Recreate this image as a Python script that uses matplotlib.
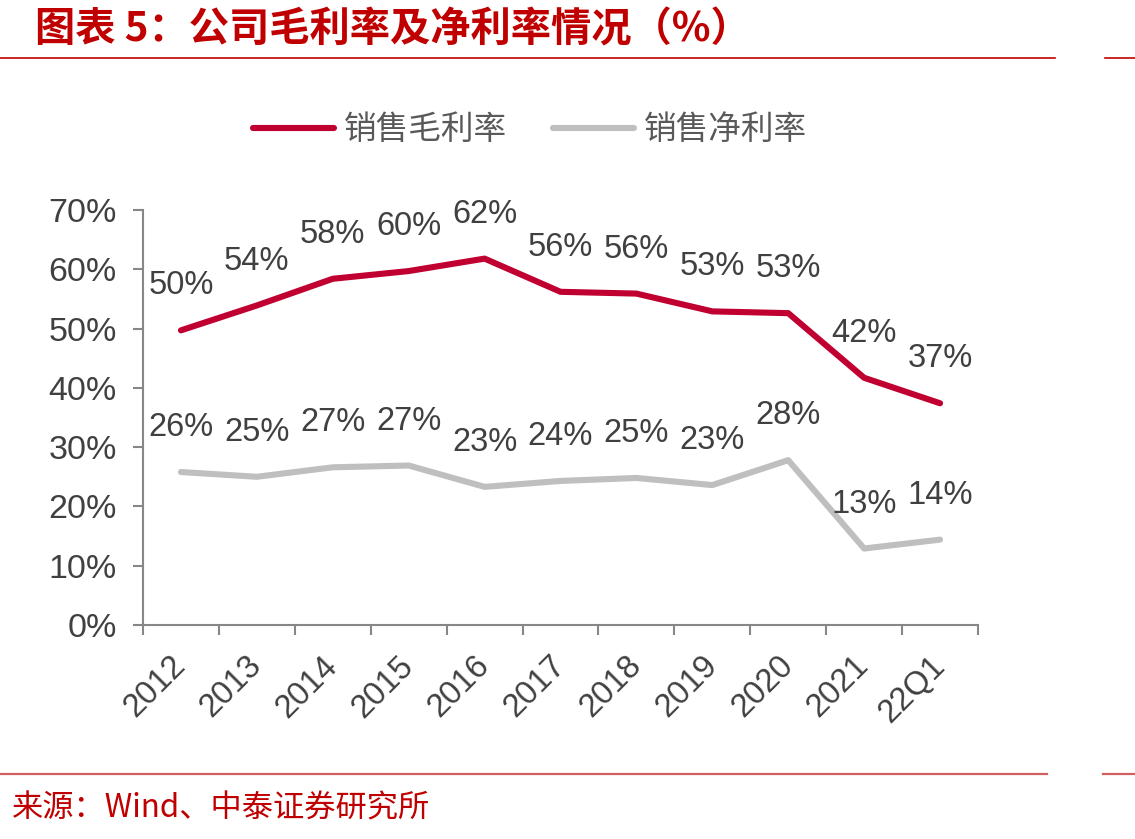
import matplotlib
matplotlib.use("Agg")
import matplotlib.pyplot as plt
from matplotlib.lines import Line2D
import numpy as np

plt.rcParams["font.family"] = ["Liberation Sans", "Noto Sans CJK SC", "DejaVu Sans"]

# data
years = ["2012", "2013", "2014", "2015", "2016", "2017", "2018", "2019", "2020", "2021", "22Q1"]
gross_margin = [49.7, 53.9, 58.4, 59.7, 61.8, 56.2, 55.9, 52.9, 52.6, 41.7, 37.4]
net_margin = [25.8, 25.0, 26.6, 26.9, 23.3, 24.3, 24.8, 23.6, 27.8, 12.9, 14.4]
gross_labels = ["50%", "54%", "58%", "60%", "62%", "56%", "56%", "53%", "53%", "42%", "37%"]
net_labels = ["26%", "25%", "27%", "27%", "23%", "24%", "25%", "23%", "28%", "13%", "14%"]
y_ticks = [0, 10, 20, 30, 40, 50, 60, 70]

RED = "#C00030"
GRAY = "#BFBFBF"
AXIS = "#878787"
TEXT = "#404040"
TITLE_RED = "#C00000"
CJK = ["Noto Sans CJK SC", "DejaVu Sans"]

W, H = 1135, 839
fig = plt.figure(figsize=(W / 100, H / 100), dpi=100)
ax = fig.add_axes([143 / W, 1 - 625 / H, (978 - 143) / W, (625 - 210) / H])

x = np.arange(len(years))
ax.plot(x, gross_margin, color=RED, lw=4.4, solid_capstyle="round", solid_joinstyle="round")
ax.plot(x, net_margin, color=GRAY, lw=4.4, solid_capstyle="round", solid_joinstyle="round")

for xi, v, s in zip(x, gross_margin, gross_labels):
    ax.annotate(s, (xi, v), xytext=(0, 32), textcoords="offset points",
                ha="center", va="center", fontsize=23.5, color=TEXT)
for xi, v, s in zip(x, net_margin, net_labels):
    ax.annotate(s, (xi, v), xytext=(0, 32), textcoords="offset points",
                ha="center", va="center", fontsize=23.5, color=TEXT)

ax.set_xlim(-0.5, len(years) - 0.5)
ax.set_ylim(0, 70)
ax.set_yticks(y_ticks)
ax.set_yticklabels([f"{t}%" for t in y_ticks])
ax.set_xticks(x)
ax.set_xticklabels(years, rotation=45, ha="right", va="center", rotation_mode="anchor")
ax.set_xticks(np.arange(-0.5, len(years)), minor=True)
ax.tick_params(axis="x", which="major", length=0, pad=26, labelsize=23.5, labelcolor=TEXT)
ax.tick_params(axis="x", which="minor", length=7, width=1.5, color=AXIS, direction="out")
ax.tick_params(axis="y", length=7, width=1.5, color=AXIS, pad=12, labelsize=24.5, labelcolor=TEXT)

for side in ["top", "right"]:
    ax.spines[side].set_visible(False)
for side in ["left", "bottom"]:
    ax.spines[side].set_color(AXIS)
    ax.spines[side].set_linewidth(1.5)

handles = [Line2D([], [], color=RED, lw=4.4, solid_capstyle="round"),
           Line2D([], [], color=GRAY, lw=4.4, solid_capstyle="round")]
fig.legend(handles, ["销售毛利率", "销售净利率"], loc="center", bbox_to_anchor=(530 / W, 1 - 130 / H),
           ncol=2, frameon=False, handlelength=2.5, handletextpad=0.3, columnspacing=1.4,
           prop={"family": CJK, "size": 23.5}, labelcolor="#595959")

# title, rules and source
fig.text(35 / W, 1 - 30 / H, "图表 5：公司毛利率及净利率情况（%）", family=CJK, fontsize=29,
         fontweight="bold", style="italic", color=TITLE_RED, ha="left", va="center")
fig.add_artist(Line2D([0, 1055 / W], [1 - 58 / H] * 2, color=TITLE_RED, lw=1.2))
fig.add_artist(Line2D([1105 / W, 1], [1 - 58 / H] * 2, color=TITLE_RED, lw=1.2))
fig.add_artist(Line2D([0, 1047 / W], [1 - 774 / H] * 2, color="#D06060", lw=1.6))
fig.add_artist(Line2D([1103 / W, 1], [1 - 774 / H] * 2, color="#D06060", lw=1.6))
fig.text(12 / W, 1 - 808 / H, "来源：Wind、中泰证券研究所", family=CJK, fontsize=22.5,
         color=TITLE_RED, ha="left", va="center")

fig.savefig("out.png", dpi=100)
